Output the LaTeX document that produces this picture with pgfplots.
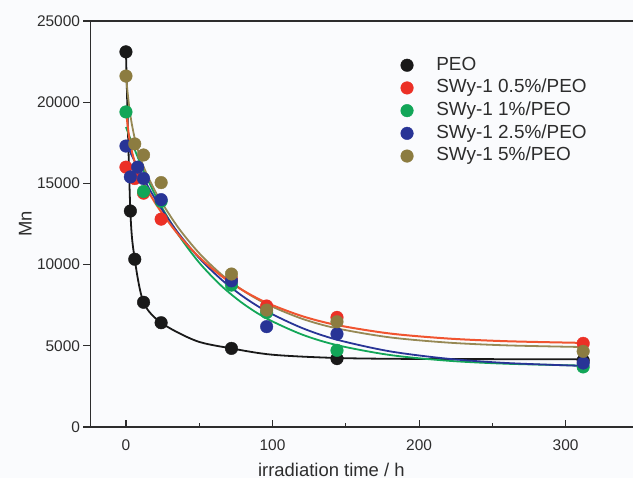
\documentclass[border=0pt]{standalone}
\usepackage{pgfplots}
\pgfplotsset{compat=1.18}
\usetikzlibrary{backgrounds}
\usepackage{fontspec}
\setmainfont{Liberation Sans}

\definecolor{bgcol}{RGB}{250,251,253}
\definecolor{axgray}{RGB}{45,45,45}
\definecolor{cpeo}{RGB}{25,25,25}
\definecolor{cred}{RGB}{236,48,38}
\definecolor{credl}{RGB}{240,84,48}
\definecolor{cgreen}{RGB}{18,166,88}
\definecolor{cblue}{RGB}{40,52,150}
\definecolor{colive}{RGB}{140,124,64}
\definecolor{colivel}{RGB}{150,136,84}

\begin{document}
\begin{tikzpicture}
\begin{axis}[
  name=ax,
  scale only axis,
  width=542.5bp, height=406bp,
  xmin=-24.2, xmax=346,
  ymin=0, ymax=25000,
  axis x line*=box, axis y line*=left,
  axis line style={line width=1.3bp, color=axgray},
  xtick={0,100,200,300},
  minor x tick num=1,
  ytick={0,5000,10000,15000,20000,25000},
  xtick pos=left, ytick pos=left,
  xtick align=inside, ytick align=outside,
  major tick length=7bp, minor tick length=4bp,
  tick style={line width=1.1bp, color=axgray},
  scaled y ticks=false,
  ticklabel style={font=\fontsize{15.5}{18}\selectfont, color=axgray,
    /pgf/number format/assume math mode=true},
  yticklabel style={/pgf/number format/.cd, fixed, 1000 sep={}},
  xticklabel style={yshift=-9bp},
  xlabel={irradiation time / h},
  ylabel={Mn},
  label style={font=\fontsize{18.5}{22}\selectfont, color=axgray},
  x label style={at={(axis description cs:0.444,0)}, anchor=north, inner sep=0pt, yshift=-36bp},
  y label style={at={(axis description cs:-0.12,0.5)}, anchor=center},
  legend cell align=left,
  legend style={at={(axis description cs:0.5715,0.917)}, anchor=north west,
    draw=none, fill=none, inner sep=0pt, row sep=2bp,
    font=\fontsize{19}{22}\selectfont, text=axgray,
    nodes={inner sep=1bp, text height=14.2bp, text depth=4.5bp},
    /tikz/every odd column/.append style={column sep=22bp}},
]
%% fitted curves
\addplot[forget plot, smooth, cpeo, line width=1.8bp] coordinates {
  (0,23100) (3,13300) (6,10330) (12,7680) (24,6420) (48,5300) (72,4840)
  (100,4450) (144,4250) (200,4190) (312,4170)
};
\addplot[forget plot, smooth, cgreen, line width=1.8bp] coordinates {
  (0,18470) (4,17517) (8,16627) (12,15792) (18,14642) (24,13600) (36,11806)
  (50,10119) (65,8700) (80,7593) (96,6682) (120,5699) (144,5040) (180,4435)
  (220,4078) (260,3894) (312,3782)
};
\addplot[forget plot, smooth, cblue, line width=1.8bp] coordinates {
  (0,17490) (4,16719) (8,15990) (12,15302) (18,14341) (24,13459) (36,11906)
  (50,10399) (65,9089) (80,8030) (96,7125) (120,6102) (144,5375) (180,4661)
  (220,4200) (260,3939) (312,3761)
};
\addplot[forget plot, smooth, colivel, line width=1.8bp] coordinates {
  (0,21610) (2,19870) (4,18656) (7,17401) (12,16034) (18,14858) (24,13880)
  (36,12237) (50,10700) (65,9406) (80,8398) (96,7568) (120,6671) (144,6071)
  (180,5520) (220,5195) (260,5026) (312,4924)
};
\addplot[forget plot, smooth, credl, line width=2bp] coordinates {
  (0,19500) (2,17951) (4,16983) (7,16053) (12,15032) (18,14082) (24,13248)
  (36,11815) (50,10458) (65,9307) (80,8402) (96,7651) (120,6832) (144,6276)
  (180,5758) (220,5446) (260,5281) (312,5178)
};
%% measured points
\addplot[only marks, mark=*, mark size=6.3bp, cpeo] coordinates {
  (312,4100) (0,23100) (3,13300) (6,10330) (12,7680) (24,6420) (72,4840) (144,4210)
};
\addlegendentry{PEO}
\addplot[only marks, mark=*, mark size=6.3bp, cred] coordinates {
  (0,16000) (6,15300) (12,14400) (24,12800) (72,9100) (96,7450) (144,6750) (312,5150)
};
\addlegendentry{SWy-1 0.5\%/PEO}
\addplot[only marks, mark=*, mark size=6.3bp, cgreen] coordinates {
  (0,19400) (12,14500) (24,13900) (72,8740) (96,7050) (144,4720) (312,3700)
};
\addlegendentry{SWy-1 1\%/PEO}
\addplot[only marks, mark=*, mark size=6.3bp, cblue] coordinates {
  (0,17300) (3,15400) (8,16000) (12,15300) (24,14000) (72,9000) (96,6180) (144,5730) (312,3940)
};
\addlegendentry{SWy-1 2.5\%/PEO}
\addplot[only marks, mark=*, mark size=6.3bp, colive] coordinates {
  (0,21610) (6,17430) (12,16750) (24,15050) (72,9420) (96,7200) (144,6480) (312,4660)
};
\addlegendentry{SWy-1 5\%/PEO}
\end{axis}
\begin{scope}[on background layer]
  \fill[bgcol] ([shift={(-90.5bp,-51bp)}]ax.south west) rectangle ([shift={(0bp,21bp)}]ax.north east);
\end{scope}
\pgfresetboundingbox
\path[use as bounding box] ([shift={(-90.5bp,-51bp)}]ax.south west) rectangle ([shift={(0bp,21bp)}]ax.north east);
\end{tikzpicture}
\end{document}
